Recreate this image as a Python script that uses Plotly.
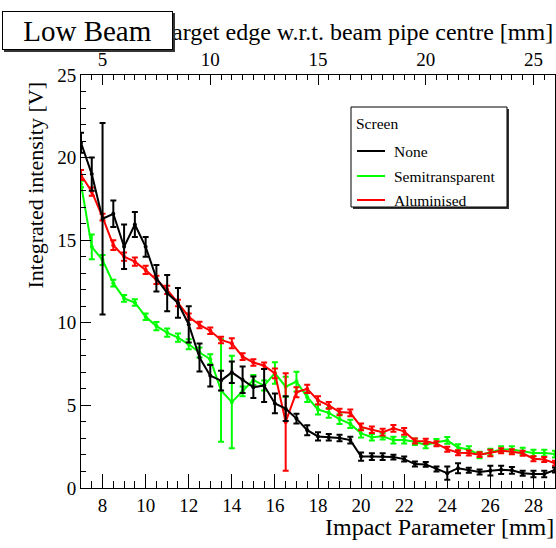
import plotly.graph_objects as go

impact_mm = [7.0, 7.5, 8.0, 8.5, 9.0, 9.5, 10.0, 10.5, 11.0, 11.5, 12.0, 12.5, 13.0, 13.5, 14.0,
             14.5, 15.0, 15.5, 16.0, 16.5, 17.0, 17.5, 18.0, 18.5, 19.0, 19.5, 20.0, 20.5, 21.0,
             21.5, 22.0, 22.5, 23.0, 23.5, 24.0, 24.5, 25.0, 25.5, 26.0, 26.5, 27.0, 27.5, 28.0,
             28.5, 29.0]

none_v = [20.9, 19.0, 16.3, 16.6, 14.6, 15.95, 14.6, 12.7, 11.8, 11.2, 9.9, 7.9, 6.8, 6.5, 7.0,
          6.55, 6.1, 6.2, 5.12, 4.8, 4.2, 3.5, 3.12, 3.07, 3.03, 2.9, 1.9, 1.9, 1.9,
          1.87, 1.75, 1.45, 1.43, 1.15, 0.9, 1.2, 1.07, 0.97, 1.05, 1.1, 1.07, 0.89, 0.85,
          0.85, 1.09]
none_e = [0.6, 1.0, 5.8, 0.8, 1.35, 0.75, 0.6, 0.8, 1.1, 0.9, 1.1, 0.85, 0.65, 0.6, 0.65,
          0.8, 0.65, 1.0, 0.6, 0.75, 0.3, 0.3, 0.25, 0.2, 0.2, 0.2, 0.25, 0.2, 0.2,
          0.15, 0.15, 0.15, 0.15, 0.15, 0.4, 0.3, 0.15, 0.15, 0.3, 0.25, 0.2, 0.15, 0.2,
          0.2, 0.15]

semi_v = [18.4, 14.6, 13.8, 12.4, 11.48, 11.23, 10.37, 9.8, 9.4, 9.1, 8.7, 8.2, 7.8, 5.9, 5.2,
          5.85, 6.54, 6.2, 6.96, 6.13, 6.44, 5.5, 4.75, 4.55, 4.17, 3.88, 3.3, 3.07, 3.13,
          2.9, 2.9, 2.8, 2.6, 2.77, 2.88, 2.45, 2.33, 2.0, 2.18, 2.33, 2.33, 2.23, 2.12,
          2.12, 2.05]
semi_e = [0.2, 0.75, 0.3, 0.2, 0.2, 0.2, 0.2, 0.25, 0.25, 0.25, 0.3, 0.3, 0.3, 3.1, 2.8,
          0.3, 0.3, 0.3, 0.65, 0.6, 0.6, 0.3, 0.3, 0.3, 0.3, 0.25, 0.25, 0.2, 0.2,
          0.2, 0.2, 0.2, 0.2, 0.2, 0.2, 0.2, 0.2, 0.2, 0.2, 0.2, 0.2, 0.2, 0.2,
          0.2, 0.2]

alu_v = [18.95, 17.94, 16.4, 14.7, 14.0, 13.7, 13.2, 12.6, 12.0, 11.2, 10.37, 9.87, 9.52, 8.96, 8.76,
         7.95, 7.6, 7.4, 6.94, 4.0, 5.8, 6.0, 5.3, 5.0, 4.6, 4.55, 3.7, 3.53, 3.38,
         3.61, 3.43, 2.85, 2.83, 2.68, 2.35, 2.14, 2.12, 2.02, 2.12, 2.25, 2.2, 2.1, 1.77,
         1.73, 1.5]
alu_e = [0.3, 0.25, 0.2, 0.3, 0.25, 0.25, 0.25, 0.25, 0.25, 0.2, 0.2, 0.2, 0.2, 0.2, 0.3,
         0.2, 0.2, 0.2, 0.3, 2.95, 0.3, 0.25, 0.25, 0.2, 0.2, 0.2, 0.2, 0.2, 0.2,
         0.2, 0.2, 0.15, 0.15, 0.15, 0.15, 0.15, 0.15, 0.15, 0.2, 0.15, 0.15, 0.15, 0.15,
         0.15, 0.15]

series_names = ["None", "Semitransparent", "Aluminised"]
series_colors = ["#000000", "#00ff00", "#ff0000"]

FONT = "Liberation Serif, Times New Roman, serif"

W, H = 556, 548
L, R, T, B = 81, 1, 75, 60
PW = W - L - R
PH = H - T - B


def px2x(px):
    return (px - L) / PW


def px2y(py):
    return (H - B - py) / PH


fig = go.Figure()

for name, vals, errs, col in [
    ("Semitransparent", semi_v, semi_e, series_colors[1]),
    ("Aluminised", alu_v, alu_e, series_colors[2]),
    ("None", none_v, none_e, series_colors[0]),
]:
    fig.add_trace(go.Scatter(
        x=impact_mm, y=vals, name=name, mode="lines+markers",
        line=dict(color=col, width=2),
        marker=dict(color=col, size=4),
        error_y=dict(type="data", array=errs, visible=True, color=col, thickness=2, width=3),
        showlegend=False,
    ))

fig.add_trace(go.Scatter(x=[], y=[], xaxis="x2", yaxis="y", showlegend=False, hoverinfo="skip"))

axis_common = dict(
    showline=True, linecolor="black", linewidth=1, showgrid=False, zeroline=False,
    ticks="inside", tickcolor="black", tickwidth=1,
    tickfont=dict(family=FONT, size=19, color="black"),
)

fig.update_layout(
    width=W, height=H,
    margin=dict(l=L, r=R, t=T, b=B, pad=0),
    paper_bgcolor="white", plot_bgcolor="white",
    showlegend=False,
    xaxis=dict(range=[7, 29], tick0=0, dtick=2, ticklen=14, mirror=False,
               minor=dict(dtick=0.5, tick0=0, ticklen=7, ticks="inside", tickcolor="black"),
               **axis_common),
    xaxis2=dict(range=[4, 26], overlaying="x", side="top", anchor="y", tick0=0, dtick=5, ticklen=10,
                minor=dict(dtick=0.5, tick0=0, ticklen=5, ticks="inside", tickcolor="black"),
                **axis_common),
    yaxis=dict(range=[0, 25], tick0=0, dtick=5, ticklen=10, mirror=True,
               minor=dict(dtick=1, tick0=0, ticklen=5, ticks="inside", tickcolor="black"),
               **axis_common),
)

shapes = []
annotations = []

# Axis titles (top title first so the Low Beam box covers its start)
annotations.append(dict(text="Target edge w.r.t. beam pipe centre [mm]", xref="paper", yref="paper",
                        x=px2x(555), y=px2y(32), xanchor="right", yanchor="middle",
                        showarrow=False, font=dict(family=FONT, size=24, color="black")))
annotations.append(dict(text="Impact Parameter [mm]", xref="paper", yref="paper",
                        x=px2x(556), y=px2y(527), xanchor="right", yanchor="middle",
                        showarrow=False, font=dict(family=FONT, size=24, color="black")))
annotations.append(dict(text="Integrated intensity [V]", xref="paper", yref="paper",
                        x=px2x(35), y=px2y(80), xanchor="center", yanchor="top", textangle=-90,
                        showarrow=False, font=dict(family=FONT, size=22, color="black")))

# Low Beam box: shadow then white box with text, drawn as annotations above the title
annotations.append(dict(text=" ", xref="paper", yref="paper",
                        x=px2x(4), y=px2y(13), xanchor="left", yanchor="top",
                        width=169, height=37, borderpad=0, borderwidth=1,
                        bgcolor="#333333", bordercolor="#333333",
                        showarrow=False, font=dict(family=FONT, size=10, color="black")))
annotations.append(dict(text="Low Beam", xref="paper", yref="paper",
                        x=px2x(2), y=px2y(11), xanchor="left", yanchor="top",
                        width=169, height=37, borderpad=0, borderwidth=1, align="center",
                        bgcolor="white", bordercolor="black",
                        showarrow=False, font=dict(family=FONT, size=29, color="black")))

# Legend box with shadow
shapes.append(dict(type="rect", xref="paper", yref="paper",
                   x0=px2x(353), x1=px2x(509), y0=px2y(209), y1=px2y(109),
                   fillcolor="#333333", line=dict(width=0), layer="above"))
shapes.append(dict(type="rect", xref="paper", yref="paper",
                   x0=px2x(351), x1=px2x(507), y0=px2y(207), y1=px2y(107),
                   fillcolor="white", line=dict(color="black", width=1), layer="above"))
annotations.append(dict(text="Screen", xref="paper", yref="paper",
                        x=px2x(354), y=px2y(123), xanchor="left", yanchor="middle",
                        showarrow=False, font=dict(family=FONT, size=15.5, color="black")))
legend_y = [151, 176, 200]
for name, col, ly in zip(series_names, series_colors, legend_y):
    shapes.append(dict(type="line", xref="paper", yref="paper",
                       x0=px2x(357), x1=px2x(385), y0=px2y(ly), y1=px2y(ly),
                       line=dict(color=col, width=2), layer="above"))
    annotations.append(dict(text=name, xref="paper", yref="paper",
                            x=px2x(392), y=px2y(ly), xanchor="left", yanchor="middle",
                            showarrow=False, font=dict(family=FONT, size=15.5, color="black")))

fig.update_layout(shapes=shapes, annotations=annotations)

fig.write_html("out.html")
